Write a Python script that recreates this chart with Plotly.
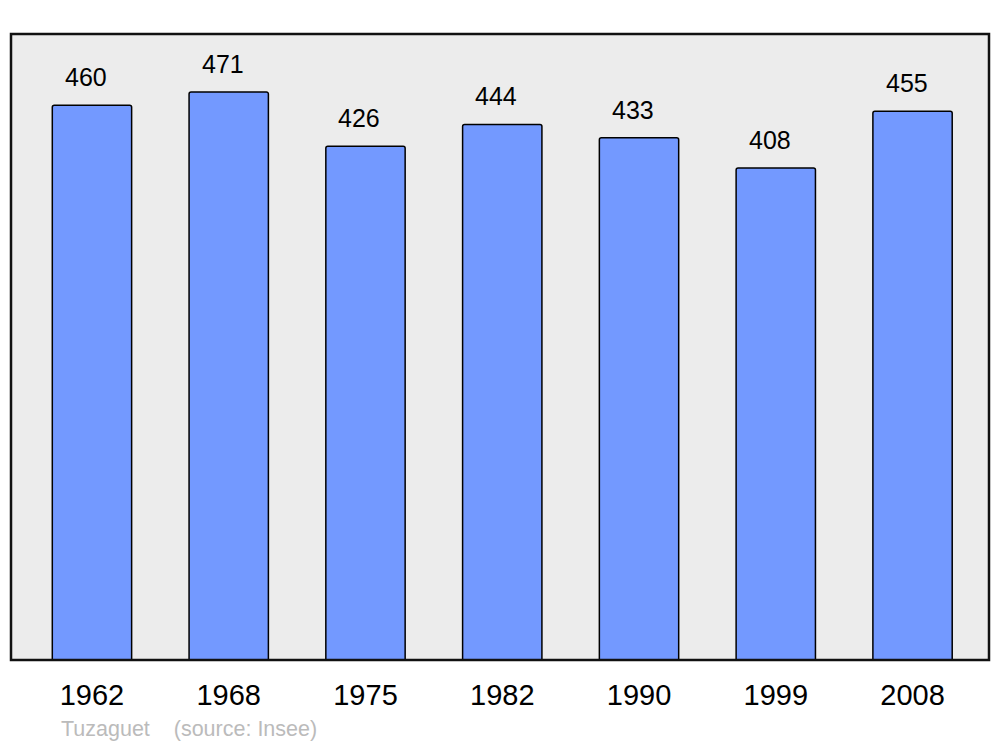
import plotly.graph_objects as go

years = ["1962", "1968", "1975", "1982", "1990", "1999", "2008"]
population = [460, 471, 426, 444, 433, 408, 455]
source_text = "Tuzaguet    (source: Insee)"

xs = list(range(len(years)))

fig = go.Figure()
fig.add_trace(go.Bar(
    x=xs, y=population, width=0.58,
    marker=dict(color="#7399FF", line=dict(color="#000000", width=1.5), cornerradius=2),
    hoverinfo="skip",
))

for x, v in zip(xs, population):
    fig.add_annotation(x=x, y=v, text=str(v), showarrow=False, yanchor="bottom",
                       yshift=12, xshift=-6,
                       font=dict(family="Liberation Sans, Arial", size=25, color="#000000"))

fig.add_annotation(xref="paper", yref="paper", x=0.049, y=-0.11, xanchor="left", yanchor="middle",
                   text=source_text, showarrow=False,
                   font=dict(family="Liberation Sans, Arial", size=21.5, color="#BBBBBB"))

fig.add_shape(type="rect", xref="paper", yref="paper", x0=0, x1=1, y0=0, y1=1,
              line=dict(color="#111111", width=2.5), layer="above")

fig.update_layout(
    width=1000, height=747,
    margin=dict(l=11, r=11, t=34, b=87),
    paper_bgcolor="#FFFFFF", plot_bgcolor="#ECECEC",
    showlegend=False,
    xaxis=dict(range=[-0.592, 6.559], tickmode="array", tickvals=xs, ticktext=years,
               showgrid=False, zeroline=False, ticks="", ticklabelstandoff=15,
               tickfont=dict(family="Liberation Sans, Arial", size=29, color="#000000")),
    yaxis=dict(range=[0, 519], showgrid=False, zeroline=False, showticklabels=False, ticks=""),
)

fig.write_html("out.html", config={"displayModeBar": False},
               post_script="document.body.style.margin='0';document.body.style.overflow='hidden';")
